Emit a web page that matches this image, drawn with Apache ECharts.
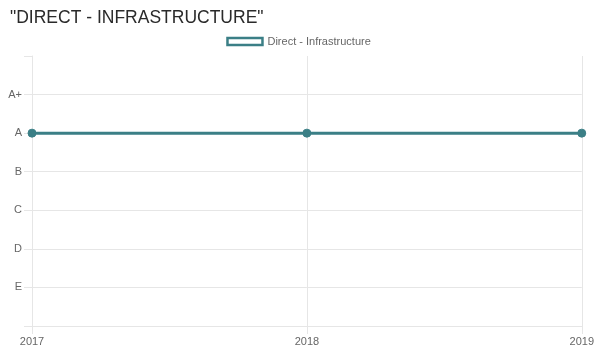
<!DOCTYPE html>
<html>
<head>
<meta charset="utf-8">
<script src="https://cdn.jsdelivr.net/npm/echarts@6/dist/echarts.min.js"></script>
<style>
  html, body { margin: 0; padding: 0; background: #fff; }
  #chart { width: 597px; height: 350px; }
</style>
</head>
<body>
<div id="chart"></div>
<script>
// Years on the horizontal axis
const years = ['2017', '2018', '2019'];
// Grade scale, bottom to top; empty slots pad the ends of the axis
const gradeLabels = ['', 'E', 'D', 'C', 'B', 'A', 'A+', ''];
// Grade per year
const infraGrades = ['A', 'A', 'A'];

const seriesName = 'Direct - Infrastructure';
const teal = '#3b7f86';
const gridColor = '#e6e6e6';
const labelFont = 'Liberation Sans';

// Horizontal grid lines for every grade row; the top edge stays open
const rowLineColors = gradeLabels.map((_, i) => i === gradeLabels.length - 1 ? 'rgba(0,0,0,0)' : gridColor);

const chart = echarts.init(document.getElementById('chart'), null, { renderer: 'canvas' });

chart.setOption({
  animation: false,
  title: {
    text: '"DIRECT - INFRASTRUCTURE"',
    left: 5,
    top: 4,
    textStyle: { fontFamily: labelFont, fontSize: 17.5, fontWeight: 'normal', color: '#2a2a2a' }
  },
  legend: {
    top: 36,
    left: 'center',
    padding: 0,
    icon: 'rect',
    itemWidth: 35,
    itemHeight: 7,
    itemGap: 10,
    textStyle: { fontFamily: labelFont, fontSize: 11, color: '#666' },
    data: [{
      name: seriesName,
      itemStyle: { color: '#fff', borderColor: teal, borderWidth: 2.5 }
    }]
  },
  grid: { left: 32, right: 14, top: 56, bottom: 24, containLabel: false },
  xAxis: {
    type: 'category',
    data: years,
    boundaryGap: false,
    axisLine: { show: true, lineStyle: { color: gridColor } },
    axisTick: { show: true, length: 8, lineStyle: { color: gridColor } },
    axisLabel: { margin: 10, fontFamily: labelFont, fontSize: 11, color: '#666' },
    splitLine: { show: true, lineStyle: { color: gridColor } }
  },
  yAxis: {
    type: 'value',
    min: 0,
    max: gradeLabels.length - 1,
    interval: 1,
    axisLine: { show: true, lineStyle: { color: gridColor } },
    axisTick: { show: true, length: 8, lineStyle: { color: gridColor } },
    axisLabel: {
      margin: 10,
      fontFamily: labelFont,
      fontSize: 11,
      color: '#666',
      formatter: v => gradeLabels[v] || ''
    },
    splitLine: { show: true, lineStyle: { color: rowLineColors } }
  },
  series: [{
    name: seriesName,
    type: 'line',
    data: infraGrades.map(g => gradeLabels.indexOf(g)),
    symbol: 'circle',
    symbolSize: 8,
    showSymbol: true,
    lineStyle: { color: teal, width: 3 },
    itemStyle: { color: teal, borderColor: teal, borderWidth: 1 }
  }]
});
</script>
</body>
</html>
